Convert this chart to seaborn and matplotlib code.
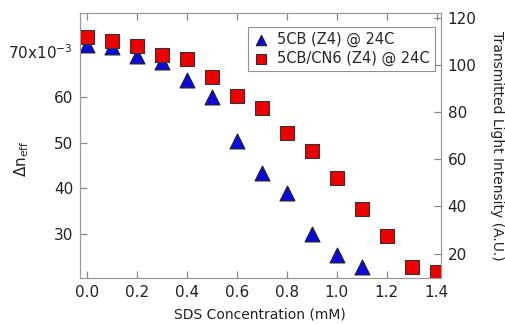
import numpy as np
import pandas as pd
import seaborn as sns
import matplotlib.pyplot as plt

# SDS concentration (mM)
sds_5cb = [0.0, 0.1, 0.2, 0.3, 0.4, 0.5, 0.6, 0.7, 0.8, 0.9, 1.0, 1.1]
sds_cn6 = [0.0, 0.1, 0.2, 0.3, 0.4, 0.5, 0.6, 0.7, 0.8, 0.9, 1.0, 1.1, 1.2, 1.3, 1.4]

# delta n_eff (x10^-3), left axis
dn_5cb = [71.3, 70.8, 68.9, 67.6, 63.6, 60.0, 50.4, 43.3, 38.9, 30.1, 25.5, 22.9]
# transmitted light intensity (A.U.), right axis
tli_cn6 = [111.7, 110.3, 108.2, 104.1, 102.7, 95.0, 86.9, 81.6, 71.0, 63.6,
           52.2, 38.9, 27.5, 14.4, 12.3]

left_ticks = [30, 40, 50, 60, 70]
right_ticks = [20, 40, 60, 80, 100, 120]
x_ticks = [0.0, 0.2, 0.4, 0.6, 0.8, 1.0, 1.2, 1.4]

df1 = pd.DataFrame({'sds': sds_5cb, 'dn': np.array(dn_5cb) * 1e-3})
df2 = pd.DataFrame({'sds': sds_cn6, 'tli': tli_cn6})

sns.set_style('ticks')
plt.rcParams['font.family'] = ['DejaVu Sans']
plt.rcParams['font.size'] = 10

fig = plt.figure(figsize=(5.06, 3.24), dpi=100)
ax = fig.add_axes([0.158, 0.143, 0.713, 0.816])
ax2 = ax.twinx()

sns.scatterplot(data=df1, x='sds', y='dn', marker='^', s=115, color='#0a0adc',
                edgecolor='#222222', linewidth=0.8, ax=ax, label='5CB (Z4) @ 24C', legend=False)
sns.scatterplot(data=df2, x='sds', y='tli', marker='s', s=95, color='#ee0000',
                edgecolor='#333333', linewidth=0.8, ax=ax2, label='5CB/CN6 (Z4) @ 24C', legend=False)

ax.set_xlim(-0.028, 1.416)
ax.set_ylim(20.54e-3, 78.2e-3)
ax2.set_ylim(9.8, 121.9)

ax.set_xticks(x_ticks)
ax.set_xticklabels(['%.1f' % v for v in x_ticks])
ax.set_yticks([v * 1e-3 for v in left_ticks])
ax.set_yticklabels([str(v) for v in left_ticks[:-1]] + ['70x10$^{-3}$'])
ax2.set_yticks(right_ticks)

ax.set_xlabel('SDS Concentration (mM)', fontsize=10, color='#222222', labelpad=6)
ax.set_ylabel(r'$\Delta$n$_{\mathregular{eff}}$', fontsize=11, color='#222222')
ax.yaxis.set_label_coords(-0.135, 0.45)
ax2.set_ylabel('Transmitted Light Intensity (A.U.)', fontsize=10, color='#222222',
               rotation=270, labelpad=20)

for a in (ax, ax2):
    for sp in a.spines.values():
        sp.set_visible(True)
        sp.set_color('#999999')
        sp.set_linewidth(0.8)
    a.tick_params(direction='in', length=5, width=0.9, color='#888888',
                  labelcolor='#222222', labelsize=11, pad=5)
ax.tick_params(axis='x', bottom=True, top=True)
ax.tick_params(axis='y', left=True, right=False)
ax2.tick_params(axis='y', right=True, left=False)

h1, l1 = ax.get_legend_handles_labels()
h2, l2 = ax2.get_legend_handles_labels()
leg = ax2.legend(h1 + h2, l1 + l2, loc='upper right', bbox_to_anchor=(0.983, 0.948),
                 borderaxespad=0, frameon=True, fancybox=False, fontsize=10.5,
                 handletextpad=0.6, borderpad=0.35, labelspacing=0.25,
                 handlelength=1.0, markerscale=0.7)
leg.get_frame().set_edgecolor('#777777')
leg.get_frame().set_linewidth(0.8)

plt.savefig('out.png', dpi=100)
